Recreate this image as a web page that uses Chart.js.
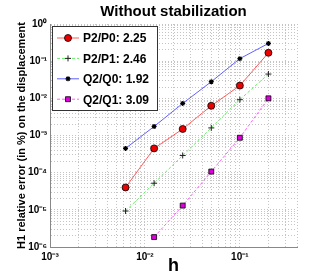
<!DOCTYPE html>
<html>
<head>
<meta charset="utf-8">
<script src="https://cdn.jsdelivr.net/npm/chart.js@4/dist/chart.umd.min.js"></script>
<style>
  html, body { margin: 0; padding: 0; background: #fff; }
  #wrap { width: 320px; height: 280px; }
</style>
</head>
<body>
<div id="wrap"><canvas id="chartErreurH1"></canvas></div>
<script>
// Données (h et erreur relative H1 en %)
const hValues = [0.00625, 0.0125, 0.025, 0.05, 0.1, 0.2];
const erreurP2P0 = [4.0e-5, 4.5e-4, 1.5e-3, 6.3e-3, 2.2e-2, 0.168];
const erreurP2P1 = [9.3e-6, 5.2e-5, 2.9e-4, 1.6e-3, 9.2e-3, 4.5e-2];
const erreurQ2Q0 = [4.5e-4, 1.75e-3, 7.3e-3, 2.8e-2, 0.117, 0.30];
const erreurQ2Q1 = [null, 1.85e-6, 1.3e-5, 1.07e-4, 8.7e-4, 1.0e-2];

const seriesLabels = ['P2/P0: 2.25', 'P2/P1: 2.46', 'Q2/Q0: 1.92', 'Q2/Q1: 3.09'];

// Graduations principales
const xMajorTicks = [1e-3, 1e-2, 1e-1];
const xTickLabels = ['10\u207B\u00B3', '10\u207B\u00B2', '10\u207B\u00B9'];
const yMajorTicks = [1e-6, 1e-5, 1e-4, 1e-3, 1e-2, 1e-1, 1];
const yTickLabels = ['10\u207B\u2076', '10\u207B\u2075', '10\u207B\u2074', '10\u207B\u00B3', '10\u207B\u00B2', '10\u207B\u00B9', '10\u2070'];

function toPoints(values) {
    const pts = [];
    values.forEach((v, i) => {
        if (v !== null) pts.push({ x: hValues[i], y: v });
    });
    return pts;
}

// Ticks mineurs 1..9 x 10^n entre min et max
function logTicks(min, max) {
    const ticks = [];
    for (let e = Math.floor(Math.log10(min)); e <= Math.ceil(Math.log10(max)); e++) {
        for (let m = 1; m <= 9; m++) {
            const v = m * Math.pow(10, e);
            if (v >= min * 0.999 && v <= max * 1.001) ticks.push({ value: v });
        }
    }
    return ticks;
}

function labelFor(value, majors, labels) {
    for (let i = 0; i < majors.length; i++) {
        if (Math.abs(value - majors[i]) / majors[i] < 1e-6) return labels[i];
    }
    return '';
}

// Légende dessinée à l'intérieur de la zone du graphique
const legendeInterne = {
    id: 'legendeInterne',
    afterDraw(chart) {
        const ctx = chart.ctx;
        const x0 = 52, y0 = 26, w = 105, h = 84;
        ctx.save();
        ctx.fillStyle = '#fff';
        ctx.fillRect(x0, y0, w, h);
        ctx.strokeStyle = '#333';
        ctx.lineWidth = 1;
        ctx.strokeRect(x0 + 0.5, y0 + 0.5, w, h);
        chart.data.datasets.forEach((ds, i) => {
            const y = 38 + i * 20.4;
            ctx.save();
            ctx.strokeStyle = ds.borderColor;
            ctx.lineWidth = 1;
            ctx.setLineDash(ds.borderDash || []);
            ctx.beginPath();
            ctx.moveTo(57, y);
            ctx.lineTo(79, y);
            ctx.stroke();
            ctx.restore();
            ctx.save();
            ctx.fillStyle = ds.pointBackgroundColor;
            ctx.strokeStyle = ds.pointBorderColor;
            ctx.lineWidth = ds.pointBorderWidth;
            Chart.helpers.drawPoint(ctx, {
                pointStyle: ds.pointStyle,
                radius: ds.pointRadius,
                rotation: 0,
                borderWidth: ds.pointBorderWidth
            }, 68, y);
            ctx.restore();
            ctx.fillStyle = '#000';
            ctx.font = 'bold 12px "Liberation Sans", Arial, sans-serif';
            ctx.textBaseline = 'middle';
            ctx.fillText(ds.label, 83, y + 1);
        });
        ctx.restore();
    }
};

const canvas = document.getElementById('chartErreurH1');

const chart = new Chart(canvas, {
    type: 'line',
    data: {
        datasets: [{
            label: seriesLabels[0],
            data: toPoints(erreurP2P0),
            borderColor: '#ff5a5a',
            borderWidth: 1,
            pointStyle: 'circle',
            pointRadius: 3.5,
            pointBackgroundColor: '#ee0000',
            pointBorderColor: '#000',
            pointBorderWidth: 0.8
        }, {
            label: seriesLabels[1],
            data: toPoints(erreurP2P1),
            borderColor: '#66ee66',
            borderWidth: 1,
            borderDash: [3, 2],
            pointStyle: 'cross',
            pointRadius: 3,
            pointBackgroundColor: '#000',
            pointBorderColor: '#222',
            pointBorderWidth: 1
        }, {
            label: seriesLabels[2],
            data: toPoints(erreurQ2Q0),
            borderColor: '#6060ff',
            borderWidth: 1,
            pointStyle: 'star',
            pointRadius: 2.5,
            pointBackgroundColor: '#000',
            pointBorderColor: '#000',
            pointBorderWidth: 1.2
        }, {
            label: seriesLabels[3],
            data: toPoints(erreurQ2Q1),
            borderColor: '#ff60ff',
            borderWidth: 1,
            borderDash: [3, 2],
            pointStyle: 'rect',
            pointRadius: 3.5,
            pointBackgroundColor: '#dd00dd',
            pointBorderColor: '#000',
            pointBorderWidth: 0.8
        }]
    },
    options: {
        responsive: true,
        maintainAspectRatio: false,
        animation: false,
        layout: { padding: { left: 0, right: 23, top: 0, bottom: 0 } },
        plugins: {
            legend: { display: false },
            tooltip: { enabled: false },
            title: {
                display: true,
                text: 'Without stabilization',
                fullSize: false,
                color: '#000',
                font: { family: '"Liberation Sans", Arial, sans-serif', size: 15, weight: 'bold', lineHeight: 1.2 },
                padding: { top: 3, bottom: 3 }
            }
        },
        scales: {
            x: {
                type: 'logarithmic',
                min: 0.001,
                max: 0.4,
                afterBuildTicks: (scale) => { scale.ticks = logTicks(0.001, 0.4); },
                afterFit: (scale) => { scale.height = 33; },
                grid: { color: '#c4c4c4', lineWidth: 1, drawTicks: false },
                border: { display: true, color: '#888', width: 1, dash: [1, 2] },
                ticks: {
                    autoSkip: false,
                    maxRotation: 0,
                    padding: 4,
                    color: '#000',
                    font: { family: '"Liberation Sans", Arial, sans-serif', size: 10, weight: 'bold' },
                    callback: (value) => labelFor(value, xMajorTicks, xTickLabels)
                },
                title: {
                    display: true,
                    text: 'h',
                    color: '#000',
                    font: { family: '"Liberation Sans", Arial, sans-serif', size: 18, weight: 'bold', lineHeight: 1.2 },
                    padding: { top: 0, bottom: 3 }
                }
            },
            y: {
                type: 'logarithmic',
                min: 1e-6,
                max: 1,
                afterBuildTicks: (scale) => { scale.ticks = logTicks(1e-6, 1); },
                afterFit: (scale) => { scale.width = 50; },
                grid: { color: '#c4c4c4', lineWidth: 1, drawTicks: false },
                border: { display: true, color: '#888', width: 1, dash: [1, 2] },
                ticks: {
                    autoSkip: false,
                    padding: 3,
                    color: '#000',
                    font: { family: '"Liberation Sans", Arial, sans-serif', size: 10, weight: 'bold' },
                    callback: (value) => labelFor(value, yMajorTicks, yTickLabels)
                },
                title: {
                    display: true,
                    text: 'H1 relative error (in %) on the displacement',
                    color: '#000',
                    font: { family: '"Liberation Sans", Arial, sans-serif', size: 11, weight: 'bold', lineHeight: 1.2 },
                    padding: { top: 15, bottom: 0 }
                }
            }
        }
    },
    plugins: [legendeInterne]
});
</script>
</body>
</html>
